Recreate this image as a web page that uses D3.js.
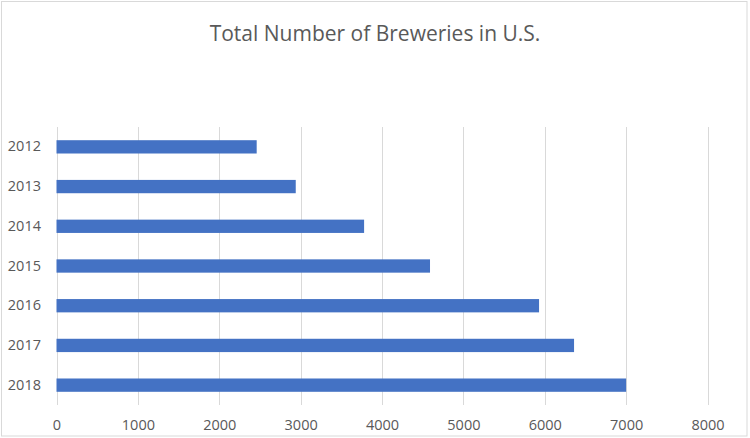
<!DOCTYPE html>
<html>
<head>
<meta charset="utf-8">
<script src="https://cdn.jsdelivr.net/npm/d3@7"></script>
<style>
  body { margin: 0; background: #fff; }
  svg { display: block; }
</style>
</head>
<body>
<svg class="chart"></svg>
<script>
// data
const years = ["2012", "2013", "2014", "2015", "2016", "2017", "2018"]
const breweries = [2460, 2940, 3780, 4590, 5930, 6360, 7000]
const xTicks = [0, 1000, 2000, 3000, 4000, 5000, 6000, 7000, 8000]

const width = 750
const height = 438
const plot = { left: 56.5, right: 707.5, top: 127, bottom: 405 }

const svg = d3.select("svg.chart")
        .attr("width", width)
        .attr("height", height)
        .style("font-family", "'Open Sans', sans-serif")

// chart border
svg.append("rect")
        .attr("x", 1.5)
        .attr("y", 1.5)
        .attr("width", 745.5)
        .attr("height", 434.5)
        .style("fill", "#fff")
        .style("stroke", "#d9d9d9")
        .style("stroke-width", 1)

svg.append("text")
        .attr("x", 375)
        .attr("y", 41)
        .attr("text-anchor", "middle")
        .style("font-size", "21px")
        .style("fill", "#595959")
        .text("Total Number of Breweries in U.S.")

const xScale = d3.scaleLinear()
        .domain([0, 8000])
        .range([plot.left, plot.right])

const yScale = d3.scaleBand()
        .domain(years)
        .range([plot.top, plot.bottom])
        .paddingInner(0.665)
        .paddingOuter(0.3325)

// vertical gridlines
svg.append("g")
        .selectAll("line")
        .data(xTicks)
        .enter()
        .append("line")
        .attr("x1", d => Math.round(xScale(d)) + 0.5)
        .attr("x2", d => Math.round(xScale(d)) + 0.5)
        .attr("y1", plot.top)
        .attr("y2", plot.bottom)
        .style("stroke", "#d9d9d9")
        .style("stroke-width", 1)

const rows = years.map((y, i) => ({ year: y, value: breweries[i] }))

svg.append("g")
        .selectAll("rect")
        .data(rows)
        .enter()
        .append("rect")
        .attr("x", xScale(0))
        .attr("y", d => yScale(d.year))
        .attr("width", d => xScale(d.value) - xScale(0))
        .attr("height", yScale.bandwidth())
        .style("fill", "#4472c4")

// axes, drawn without domain lines or tick marks
const xAxis = svg.append("g")
        .attr("transform", "translate(0," + 425 + ")")
        .call(d3.axisBottom(xScale).tickValues(xTicks).tickFormat(d3.format("d")).tickSize(0).tickPadding(0))
xAxis.select(".domain").remove()
xAxis.selectAll("text")
        .attr("dy", "0.32em")
        .style("font-family", "'Open Sans', sans-serif")
        .style("font-size", "14.5px")
        .style("fill", "#595959")

const yAxis = svg.append("g")
        .attr("transform", "translate(" + 41 + ",0)")
        .call(d3.axisLeft(yScale).tickSize(0).tickPadding(0))
yAxis.select(".domain").remove()
yAxis.selectAll("text")
        .style("font-family", "'Open Sans', sans-serif")
        .style("font-size", "14.5px")
        .style("fill", "#595959")
</script>
</body>
</html>
